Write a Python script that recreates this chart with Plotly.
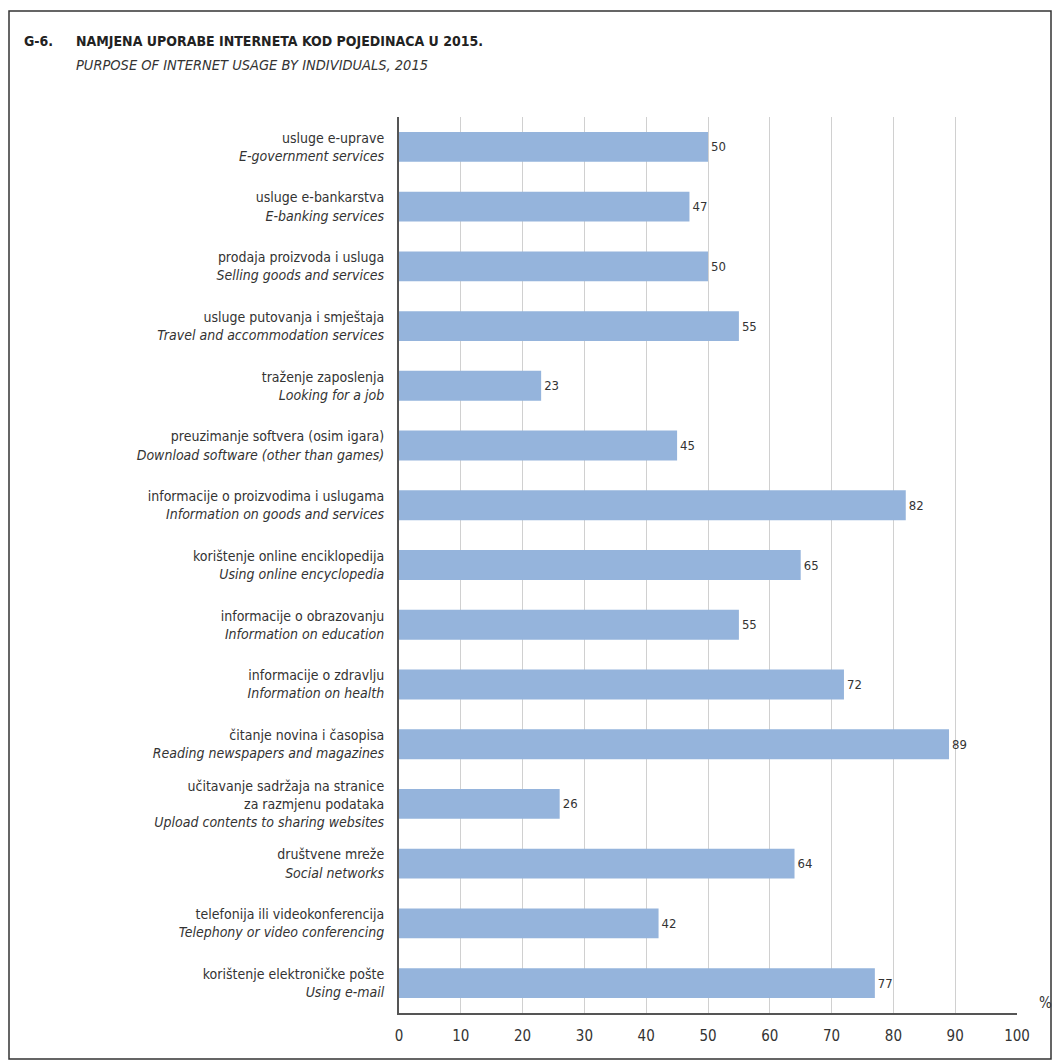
import plotly.graph_objects as go

categories_hr = [
    "usluge e-uprave",
    "usluge e-bankarstva",
    "prodaja proizvoda i usluga",
    "usluge putovanja i smještaja",
    "traženje zaposlenja",
    "preuzimanje softvera (osim igara)",
    "informacije o proizvodima i uslugama",
    "korištenje online enciklopedija",
    "informacije o obrazovanju",
    "informacije o zdravlju",
    "čitanje novina i časopisa",
    "učitavanje sadržaja na stranice<br>za razmjenu podataka",
    "društvene mreže",
    "telefonija ili videokonferencija",
    "korištenje elektroničke pošte",
]
categories_en = [
    "E-government services",
    "E-banking services",
    "Selling goods and services",
    "Travel and accommodation services",
    "Looking for a job",
    "Download software (other than games)",
    "Information on goods and services",
    "Using online encyclopedia",
    "Information on education",
    "Information on health",
    "Reading newspapers and magazines",
    "Upload contents to sharing websites",
    "Social networks",
    "Telephony or video conferencing",
    "Using e-mail",
]
values = [50, 47, 50, 55, 23, 45, 82, 65, 55, 72, 89, 26, 64, 42, 77]
x_ticks = [0, 10, 20, 30, 40, 50, 60, 70, 80, 90, 100]

FONT = "Liberation Sans Narrow, DejaVu Sans Condensed, Arial Narrow, sans-serif"
labels = [f"{h}<br><i>{e}</i>" for h, e in zip(categories_hr, categories_en)]

fig = go.Figure(go.Bar(
    x=values,
    y=labels,
    orientation="h",
    marker=dict(color="#95b4dc", line=dict(width=0)),
    width=0.5,
    text=[str(v) for v in values],
    textposition="outside",
    textfont=dict(family=FONT, size=13, color="#333333"),
    cliponaxis=False,
))

L, R, T, B = 399, 1017, 117, 1013
W, H = 1056, 1060

def px_x(p):
    return (p - L) / (R - L)

def px_y(p):
    return (B - p) / (B - T)

fig.update_layout(
    width=W, height=H,
    margin=dict(l=L, r=W - R, t=T, b=H - B),
    paper_bgcolor="white",
    plot_bgcolor="white",
    showlegend=False,
    bargap=0.5,
    font=dict(family=FONT, color="#333333"),
    xaxis=dict(
        range=[0, 100],
        tickvals=x_ticks,
        ticktext=[str(t) for t in x_ticks],
        tickfont=dict(family=FONT, size=15, color="#333333"),
        showgrid=True,
        gridcolor="#d0d0d0",
        gridwidth=1,
        showline=True,
        linecolor="#555555",
        linewidth=2,
        zeroline=False,
        ticks="",
        ticklabelstandoff=8,
        fixedrange=True,
    ),
    yaxis=dict(
        autorange="reversed",
        tickfont=dict(family=FONT, size=14, color="#333333"),
        showline=True,
        linecolor="#555555",
        linewidth=2,
        ticks="",
        ticklabelstandoff=10,
        showgrid=False,
        fixedrange=True,
    ),
    shapes=[
        dict(type="rect", xref="paper", yref="paper",
             x0=px_x(9), x1=px_x(1051), y0=px_y(1059), y1=px_y(11),
             line=dict(color="#333333", width=1.5), fillcolor="rgba(0,0,0,0)",
             layer="below"),
    ],
    annotations=[
        dict(text="<b>G-6.</b>", xref="paper", yref="paper",
             x=px_x(22), y=px_y(41), xanchor="left", yanchor="middle",
             showarrow=False, font=dict(family=FONT, size=14, color="#222222")),
        dict(text="<b>NAMJENA UPORABE INTERNETA KOD POJEDINACA U 2015.</b>",
             xref="paper", yref="paper",
             x=px_x(74), y=px_y(41), xanchor="left", yanchor="middle",
             showarrow=False, font=dict(family=FONT, size=14, color="#222222")),
        dict(text="<i>PURPOSE OF INTERNET USAGE BY INDIVIDUALS, 2015</i>",
             xref="paper", yref="paper",
             x=px_x(74), y=px_y(65), xanchor="left", yanchor="middle",
             showarrow=False, font=dict(family=FONT, size=14.5, color="#333333")),
        dict(text="%", xref="paper", yref="paper",
             x=px_x(1045), y=px_y(1003), xanchor="center", yanchor="middle",
             showarrow=False, font=dict(family=FONT, size=15, color="#333333")),
    ],
)

fig.write_html(
    "out.html",
    config={"displayModeBar": False},
    post_script="document.body.style.margin='0';document.body.style.overflow='hidden';",
)
